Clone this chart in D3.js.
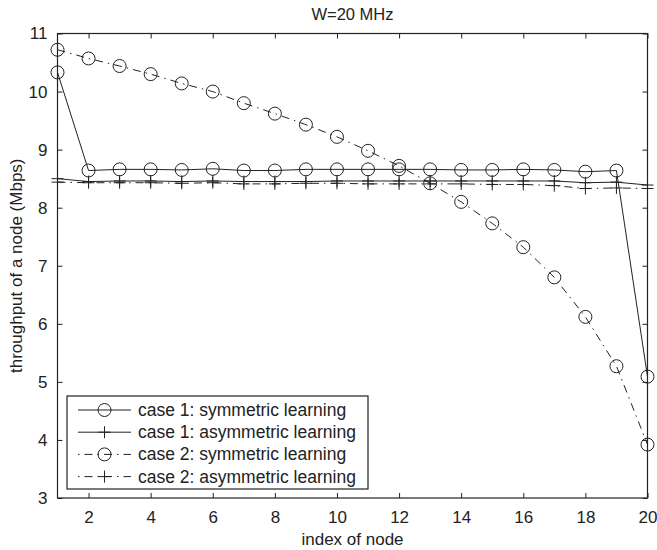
<!DOCTYPE html>
<html>
<head>
<meta charset="utf-8">
<script src="https://cdn.jsdelivr.net/npm/d3@7"></script>
<style>
  html, body { margin: 0; padding: 0; background: #fff; }
  svg { display: block; font-family: "Liberation Sans", Arial, Helvetica, sans-serif; }
</style>
</head>
<body>
<svg id="chart" width="657" height="550"></svg>
<script>
// Node indices on the x axis
const nodes = d3.range(1, 21);

// Throughput of each node (Mbps)
const case1Symmetric = [10.33, 8.64, 8.66, 8.66, 8.65, 8.67, 8.64, 8.64, 8.66, 8.66,
                        8.66, 8.66, 8.66, 8.65, 8.65, 8.66, 8.65, 8.62, 8.64, 5.09];
const case1Asymmetric = [8.50, 8.45, 8.46, 8.46, 8.45, 8.46, 8.45, 8.45, 8.45, 8.46,
                         8.46, 8.46, 8.46, 8.46, 8.46, 8.46, 8.46, 8.43, 8.44, 8.39];
const case2Symmetric = [10.72, 10.57, 10.44, 10.30, 10.14, 10.00, 9.80, 9.62, 9.43, 9.22,
                        8.98, 8.72, 8.42, 8.10, 7.73, 7.32, 6.80, 6.12, 5.27, 3.92];
const case2Asymmetric = [8.44, 8.43, 8.43, 8.43, 8.42, 8.43, 8.41, 8.41, 8.42, 8.42,
                         8.41, 8.41, 8.41, 8.41, 8.40, 8.40, 8.38, 8.33, 8.34, 8.33];

// Tick values
const xTicks = [2, 4, 6, 8, 10, 12, 14, 16, 18, 20];
const yTicks = [3, 4, 5, 6, 7, 8, 9, 10, 11];

const seriesNames = [
  "case 1: symmetric learning",
  "case 1: asymmetric learning",
  "case 2: symmetric learning",
  "case 2: asymmetric learning"
];

const titleText = "W=20 MHz";
const xLabel = "index of node";
const yLabel = "throughput of a node (Mbps)";

// Series table built from the arrays above
const series = [
  { name: seriesNames[0], values: case1Symmetric, marker: "circle", dash: null },
  { name: seriesNames[1], values: case1Asymmetric, marker: "plus", dash: null },
  { name: seriesNames[2], values: case2Symmetric, marker: "circle", dash: "8,5,1.5,5" },
  { name: seriesNames[3], values: case2Asymmetric, marker: "plus", dash: "8,5,1.5,5" }
];

const svg = d3.select("#chart");
const plotLeft = 57.5, plotRight = 647.5, plotTop = 33.5, plotBottom = 498;
const ink = "#222";

const x = d3.scaleLinear().domain([1, 20]).range([plotLeft, plotRight]);
const y = d3.scaleLinear().domain([3, 11]).range([plotBottom, plotTop]);

// Axes: ticks point inward on all four sides
const tickLen = 5;
const axisB = d3.axisBottom(x).tickValues(xTicks).tickSizeInner(-tickLen).tickSizeOuter(0).tickPadding(13);
const axisT = d3.axisTop(x).tickValues(xTicks).tickSizeInner(-tickLen).tickSizeOuter(0).tickFormat("");
const axisL = d3.axisLeft(y).tickValues(yTicks).tickSizeInner(-tickLen).tickSizeOuter(0).tickPadding(10);
const axisR = d3.axisRight(y).tickValues(yTicks).tickSizeInner(-tickLen).tickSizeOuter(0).tickFormat("");

function styleAxis(g) {
  g.select(".domain").remove();
  g.selectAll(".tick line").attr("stroke", ink).attr("stroke-width", 1);
  g.selectAll(".tick text").attr("fill", ink).attr("font-size", 17)
    .attr("font-family", "'Liberation Sans', Arial, Helvetica, sans-serif");
}

svg.append("g").attr("transform", `translate(0,${plotBottom})`).call(axisB).call(styleAxis);
svg.append("g").attr("transform", `translate(0,${plotTop})`).call(axisT).call(styleAxis);
svg.append("g").attr("transform", `translate(${plotLeft},0)`).call(axisL).call(styleAxis);
svg.append("g").attr("transform", `translate(${plotRight},0)`).call(axisR).call(styleAxis);

// Plot frame
svg.append("rect")
  .attr("x", plotLeft).attr("y", plotTop)
  .attr("width", plotRight - plotLeft).attr("height", plotBottom - plotTop)
  .attr("fill", "none").attr("stroke", ink).attr("stroke-width", 1.2);

// Series lines
const line = d3.line().x((d, i) => x(nodes[i])).y(d => y(d));

const plot = svg.append("g");

function drawMarker(g, kind, cx, cy) {
  if (kind === "circle") {
    g.append("circle").attr("cx", cx).attr("cy", cy).attr("r", 6.5)
      .attr("fill", "none").attr("stroke", ink).attr("stroke-width", 1);
  } else {
    g.append("line").attr("x1", cx - 6).attr("x2", cx + 6).attr("y1", cy).attr("y2", cy)
      .attr("stroke", ink).attr("stroke-width", 1);
    g.append("line").attr("x1", cx).attr("x2", cx).attr("y1", cy - 6).attr("y2", cy + 6)
      .attr("stroke", ink).attr("stroke-width", 1);
  }
}

series.forEach(s => {
  plot.append("path")
    .attr("d", line(s.values))
    .attr("fill", "none")
    .attr("stroke", ink)
    .attr("stroke-width", 1)
    .attr("stroke-dasharray", s.dash);
  const mg = plot.append("g");
  s.values.forEach((v, i) => drawMarker(mg, s.marker, x(nodes[i]), y(v)));
});

// Legend
const lg = svg.append("g");
const lgX = 67, lgY = 396, lgW = 301, lgH = 93;
lg.append("rect").attr("x", lgX).attr("y", lgY).attr("width", lgW).attr("height", lgH)
  .attr("fill", "#fff").attr("stroke", ink).attr("stroke-width", 1.2);

series.forEach((s, i) => {
  const cy = 410 + i * 22.2;
  lg.append("line")
    .attr("x1", 78).attr("x2", 131).attr("y1", cy).attr("y2", cy)
    .attr("stroke", ink).attr("stroke-width", 1)
    .attr("stroke-dasharray", s.dash ? "1.5,5,8,5" : null);
  drawMarker(lg, s.marker, 104.5, cy);
  lg.append("text")
    .attr("x", 138).attr("y", cy + 6)
    .attr("font-size", 17.5).attr("fill", ink)
    .text(s.name);
});

// Title and axis labels
svg.append("text").attr("x", (plotLeft + plotRight) / 2).attr("y", 20)
  .attr("text-anchor", "middle").attr("font-size", 16.5).attr("fill", ink).text(titleText);

svg.append("text").attr("x", (plotLeft + plotRight) / 2).attr("y", 545)
  .attr("text-anchor", "middle").attr("font-size", 17).attr("fill", ink).text(xLabel);

svg.append("text")
  .attr("transform", `translate(22,${(plotTop + plotBottom) / 2}) rotate(-90)`)
  .attr("text-anchor", "middle").attr("font-size", 17).attr("fill", ink).text(yLabel);
</script>
</body>
</html>
